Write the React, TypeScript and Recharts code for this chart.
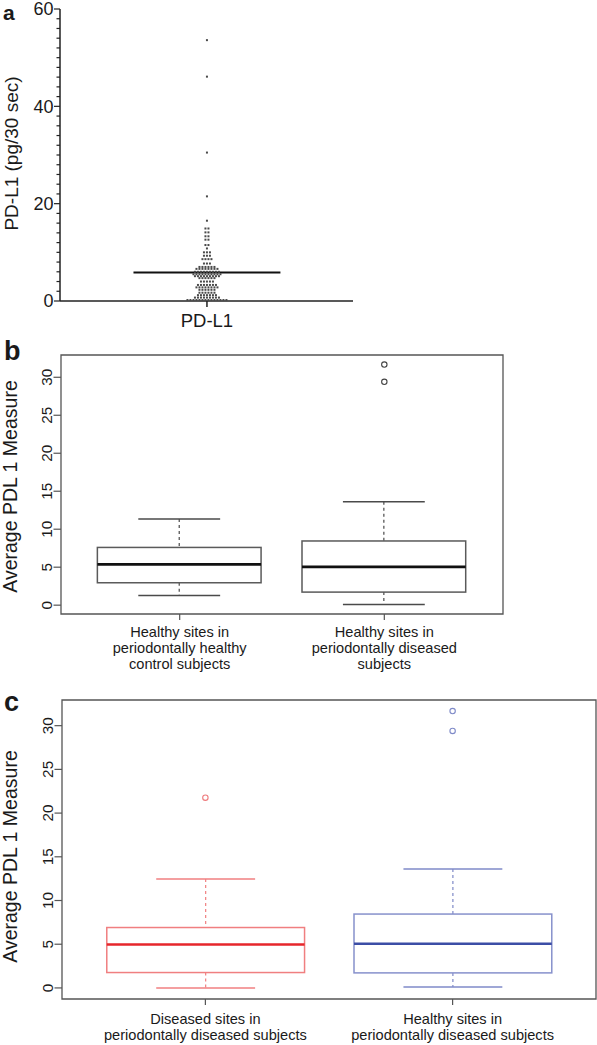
import React from 'react';
import { ComposedChart, XAxis, YAxis, Scatter, Bar, ReferenceLine, ReferenceArea } from 'recharts';

// ---------------- Panel a: PD-L1 dot plot ----------------
const pdl1Category = 'PD-L1';
const pdl1Values: number[] = [
  53.6, 46.1, 30.5, 21.5, 16.5,
  14.9, 14.9, 14.1, 14.1, 13.3, 13.3, 12.6, 12.6, 11.5, 11.5, 10.8,
  10.0, 10.0, 10.0, 9.3, 9.3, 9.3, 8.6, 8.6, 8.6, 8.6, 7.7, 7.7, 7.7,
  7.0, 7.0, 7.0, 7.0, 7.0, 7.0,
  6.6, 6.6, 6.6, 6.6, 6.6, 6.6, 6.6, 6.6,
  6.0, 6.0, 6.0, 6.0, 6.0, 6.0, 6.0, 6.0, 6.0,
  5.5, 5.5, 5.5, 5.5, 5.5, 5.5, 5.5, 5.5, 5.5, 5.5,
  5.1, 5.1, 5.1, 5.1, 5.1, 5.1, 5.1, 5.1, 5.1,
  4.7, 4.7, 4.7, 4.7, 4.7, 4.7,
  4.0, 4.0, 4.0, 4.0, 4.0,
  3.3, 3.3, 3.3, 3.3, 3.3, 3.3, 3.3,
  2.8, 2.8, 2.8, 2.8, 2.8, 2.8, 2.8, 2.8,
  2.3, 2.3, 2.3, 2.3, 2.3, 2.3,
  1.7, 1.7, 1.7, 1.7, 1.7, 1.7,
  1.2, 1.2, 1.2, 1.2, 1.2, 1.2, 1.2,
  0.7, 0.7, 0.7, 0.7, 0.7, 0.7, 0.7, 0.7, 0.7,
  0.2, 0.2, 0.2, 0.2, 0.2, 0.2, 0.2, 0.2, 0.2, 0.2, 0.2, 0.2, 0.2, 0.2,
];
const pdl1MajorTicks = [0, 20, 40, 60];
const pdl1MinorStep = 2;

// ---------------- Panel b ----------------
const bCategories = [
  ['Healthy sites in', 'periodontally healthy', 'control subjects'],
  ['Healthy sites in', 'periodontally diseased', 'subjects'],
];
const bLower = [1.28, 0.1];
const bQ1 = [2.95, 1.72];
const bMedian = [5.37, 5.05];
const bQ3 = [7.6, 8.45];
const bUpper = [11.35, 13.6];
const bOutliers: number[][] = [[], [31.67, 29.4]];

// ---------------- Panel c ----------------
const cCategories = [
  ['Diseased sites in', 'periodontally diseased subjects'],
  ['Healthy sites in', 'periodontally diseased subjects'],
];
const cLower = [0.0, 0.1];
const cQ1 = [1.76, 1.72];
const cMedian = [4.97, 5.05];
const cQ3 = [6.91, 8.45];
const cUpper = [12.45, 13.6];
const cOutliers: number[][] = [[21.76], [31.67, 29.4]];

const boxTicks = [0, 5, 10, 15, 20, 25, 30];

// ---------------- styles ----------------
const FONT = "'Liberation Sans', Arial, Helvetica, sans-serif";
const TEXT = '#1a1a1a';

type BoxStyle = { box: string; whisker: string; median: string; medianWidth: number; outlier: string };
const bStyles: BoxStyle[] = [
  { box: '#5a5a5a', whisker: '#4a4a4a', median: '#111111', medianWidth: 2.8, outlier: '#444444' },
  { box: '#5a5a5a', whisker: '#4a4a4a', median: '#111111', medianWidth: 2.8, outlier: '#444444' },
];
const cStyles: BoxStyle[] = [
  { box: '#f07f80', whisker: '#f07f80', median: '#e6262b', medianWidth: 2.6, outlier: '#ee7a7c' },
  { box: '#8791cc', whisker: '#7f8ac8', median: '#3c4ea6', medianWidth: 2.6, outlier: '#7f8ac8' },
];

// beeswarm layout: identical values are placed side by side in a row
const pdl1Points = (() => {
  const counts = new Map<number, number>();
  pdl1Values.forEach((v) => counts.set(v, (counts.get(v) ?? 0) + 1));
  const pts: { x: number; y: number }[] = [];
  counts.forEach((n, v) => {
    for (let i = 0; i < n; i++) pts.push({ x: i - (n - 1) / 2, y: v });
  });
  return pts;
})();
const pdl1Mean = pdl1Values.reduce((s, v) => s + v, 0) / pdl1Values.length;
const pdl1Ticks = Array.from({ length: pdl1MajorTicks[pdl1MajorTicks.length - 1] / pdl1MinorStep + 1 }, (_, i) => i * pdl1MinorStep);

const AYTick = (props: any) => {
  const { x, y, payload } = props;
  const major = pdl1MajorTicks.includes(payload.value);
  return (
    <g>
      <line x1={x - (major ? 6 : 3.5)} x2={x} y1={y} y2={y} stroke="#222" strokeWidth={1.2} />
      {major && (
        <text x={x - 6.5} y={y} dy="0.36em" textAnchor="end" fontSize={18} fontFamily={FONT} fill={TEXT}>
          {payload.value}
        </text>
      )}
    </g>
  );
};

const AXTick = (props: any) => {
  const { x, y } = props;
  return (
    <g>
      <line x1={x} x2={x} y1={y} y2={y + 6} stroke="#222" strokeWidth={1.5} />
      <text x={x} y={y + 25.5} textAnchor="middle" fontSize={18.5} fontFamily={FONT} fill={TEXT}>
        {pdl1Category}
      </text>
    </g>
  );
};

const DotSquare = (props: any) => {
  const { cx, cy } = props;
  return <rect x={cx - 1} y={cy - 1} width={2} height={2} fill="#4a4a4a" />;
};

function PanelA() {
  return (
    <ComposedChart width={370} height={335} margin={{ top: 9, right: 17, bottom: 4, left: 0 }}>
      <XAxis
        type="number"
        dataKey="x"
        domain={[-49, 48.7]}
        ticks={[0]}
        height={30}
        tick={AXTick}
        tickLine={false}
        tickSize={0}
        tickMargin={0}
        axisLine={{ stroke: '#222', strokeWidth: 1.5 }}
        allowDataOverflow
      />
      <YAxis
        type="number"
        dataKey="y"
        domain={[0, 60]}
        ticks={pdl1Ticks}
        interval={0}
        width={60}
        tick={AYTick}
        tickLine={false}
        tickSize={0}
        tickMargin={0}
        axisLine={{ stroke: '#222', strokeWidth: 1.5 }}
        allowDataOverflow
      />
      <Scatter data={pdl1Points} shape={DotSquare} isAnimationActive={false} />
      <ReferenceLine
        segment={[
          { x: -24.5, y: pdl1Mean },
          { x: 24.5, y: pdl1Mean },
        ]}
        stroke="#111"
        strokeWidth={2}
      />
    </ComposedChart>
  );
}

// ---------------- box panels ----------------
const X_DOMAIN: [number, number] = [0.42, 2.58];

function makeYDomain(lower: number[], upper: number[], outliers: number[][]): [number, number] {
  const all = [...lower, ...upper, ...outliers.flat()];
  const lo = Math.min(...all);
  const hi = Math.max(...all);
  const ext = (hi - lo) * 0.04;
  return [lo - ext, hi + ext];
}

const makeBoxShape = (styles: BoxStyle[]) => (props: any) => {
  const { x, y, width, height, payload } = props;
  const st = styles[payload.x - 1];
  const [lo, hi] = payload.range;
  const py = (v: number) => y + (height * (hi - v)) / (hi - lo);
  const cx = x + width / 2;
  const cap = width / 4;
  const yHi = py(hi);
  const yQ3 = py(payload.q3);
  const yMed = py(payload.med);
  const yQ1 = py(payload.q1);
  const yLo = py(lo);
  return (
    <g>
      <line x1={cx} x2={cx} y1={yHi} y2={yQ3} stroke={st.whisker} strokeWidth={1.2} strokeDasharray="3 3" />
      <line x1={cx} x2={cx} y1={yQ1} y2={yLo} stroke={st.whisker} strokeWidth={1.2} strokeDasharray="3 3" />
      <line x1={cx - cap} x2={cx + cap} y1={yHi} y2={yHi} stroke={st.whisker} strokeWidth={1.5} />
      <line x1={cx - cap} x2={cx + cap} y1={yLo} y2={yLo} stroke={st.whisker} strokeWidth={1.5} />
      <rect x={x} y={yQ3} width={width} height={yQ1 - yQ3} fill="none" stroke={st.box} strokeWidth={1.5} />
      <line x1={x} x2={x + width} y1={yMed} y2={yMed} stroke={st.median} strokeWidth={st.medianWidth} />
    </g>
  );
};

const BoxYTick = (props: any) => {
  const { x, y, payload } = props;
  return (
    <g>
      <line x1={x - 7.5} x2={x} y1={y} y2={y} stroke="#555" strokeWidth={1.2} />
      <text
        transform={`translate(${x - 9.5},${y}) rotate(-90)`}
        textAnchor="middle"
        fontSize={15.3}
        fontFamily={FONT}
        fill={TEXT}
      >
        {payload.value}
      </text>
    </g>
  );
};

const makeCatTick = (categories: string[][], baseline: number) => (props: any) => {
  const { x, y, payload } = props;
  const lines = categories[Math.round(payload.value) - 1] || [];
  return (
    <g>
      <line x1={x} x2={x} y1={y} y2={y + 6} stroke="#555" strokeWidth={1.2} />
      <text x={x} y={y + baseline} textAnchor="middle" fontSize={14.6} fontFamily={FONT} fill={TEXT}>
        {lines.map((l, i) => (
          <tspan key={i} x={x} dy={i === 0 ? 0 : 16}>
            {l}
          </tspan>
        ))}
      </text>
    </g>
  );
};

type BoxPanelProps = {
  width: number;
  height: number;
  top: number;
  right: number;
  bottom: number;
  yAxisWidth: number;
  xAxisHeight: number;
  categories: string[][];
  lower: number[];
  q1: number[];
  median: number[];
  q3: number[];
  upper: number[];
  outliers: number[][];
  styles: BoxStyle[];
  labelBaseline: number;
};

function BoxPanel(p: BoxPanelProps) {
  const rows = p.categories.map((_, i) => ({
    x: i + 1,
    range: [p.lower[i], p.upper[i]],
    q1: p.q1[i],
    med: p.median[i],
    q3: p.q3[i],
  }));
  const yDomain = makeYDomain(p.lower, p.upper, p.outliers);
  const plotW = p.width - p.yAxisWidth - p.right;
  const barSize = (0.8 * plotW) / (X_DOMAIN[1] - X_DOMAIN[0]);
  const BoxShape = makeBoxShape(p.styles);
  const CatTick = makeCatTick(p.categories, p.labelBaseline);
  return (
    <ComposedChart
      width={p.width}
      height={p.height}
      data={rows}
      margin={{ top: p.top, right: p.right, bottom: p.bottom, left: 0 }}
    >
      <XAxis
        type="number"
        dataKey="x"
        domain={X_DOMAIN}
        ticks={[1, 2]}
        interval={0}
        height={p.xAxisHeight}
        tick={CatTick}
        tickLine={false}
        tickSize={0}
        tickMargin={0}
        axisLine={false}
        allowDataOverflow
      />
      <YAxis
        type="number"
        domain={yDomain}
        ticks={boxTicks}
        interval={0}
        width={p.yAxisWidth}
        tick={BoxYTick}
        tickLine={false}
        tickSize={0}
        tickMargin={0}
        axisLine={false}
        allowDataOverflow
      />
      <ReferenceArea
        x1={X_DOMAIN[0]}
        x2={X_DOMAIN[1]}
        y1={yDomain[0]}
        y2={yDomain[1]}
        fill="none"
        fillOpacity={0}
        stroke="#555"
        strokeWidth={1.3}
        ifOverflow="visible"
      />
      <Bar dataKey="range" barSize={barSize} shape={BoxShape} isAnimationActive={false} />
      {p.outliers.map((vals, i) =>
        vals.length ? (
          <Scatter
            key={i}
            data={vals.map((v) => ({ x: i + 1, y: v }))}
            dataKey="y"
            isAnimationActive={false}
            shape={(s: any) => (
              <circle cx={s.cx} cy={s.cy} r={2.7} fill="none" stroke={p.styles[i].outlier} strokeWidth={1.1} />
            )}
          />
        ) : null
      )}
    </ComposedChart>
  );
}

export default function App() {
  return (
    <div style={{ position: 'absolute', left: 0, top: 0, width: 597, height: 1045, background: '#fff', overflow: 'hidden' }}>
      <div style={{ position: 'absolute', left: 0, top: 0 }}>
        <PanelA />
      </div>
      <div style={{ position: 'absolute', left: 0, top: 320 }}>
        <BoxPanel
          width={520}
          height={360}
          top={35}
          right={17}
          bottom={6}
          yAxisWidth={61}
          xAxisHeight={60}
          categories={bCategories}
          lower={bLower}
          q1={bQ1}
          median={bMedian}
          q3={bQ3}
          upper={bUpper}
          outliers={bOutliers}
          styles={bStyles}
          labelBaseline={23}
        />
      </div>
      <div style={{ position: 'absolute', left: 0, top: 680 }}>
        <BoxPanel
          width={597}
          height={365}
          top={20}
          right={1}
          bottom={6}
          yAxisWidth={62}
          xAxisHeight={40}
          categories={cCategories}
          lower={cLower}
          q1={cQ1}
          median={cMedian}
          q3={cQ3}
          upper={cUpper}
          outliers={cOutliers}
          styles={cStyles}
          labelBaseline={24.5}
        />
      </div>
      <svg
        width={597}
        height={1045}
        style={{ position: 'absolute', left: 0, top: 0, pointerEvents: 'none' }}
        fontFamily={FONT}
        fill={TEXT}
      >
        <text x={3} y={19.5} fontSize={21} fontWeight="bold">a</text>
        <text x={4} y={360} fontSize={27} fontWeight="bold">b</text>
        <text x={4} y={711} fontSize={27} fontWeight="bold">c</text>
        <text transform="translate(18.3,153.5) rotate(-90)" textAnchor="middle" fontSize={19}>
          PD-L1 (pg/30 sec)
        </text>
        <text transform="translate(16.5,486.5) rotate(-90)" textAnchor="middle" fontSize={19.5}>
          Average PDL 1 Measure
        </text>
        <text transform="translate(16.5,856.5) rotate(-90)" textAnchor="middle" fontSize={19.5}>
          Average PDL 1 Measure
        </text>
      </svg>
    </div>
  );
}
